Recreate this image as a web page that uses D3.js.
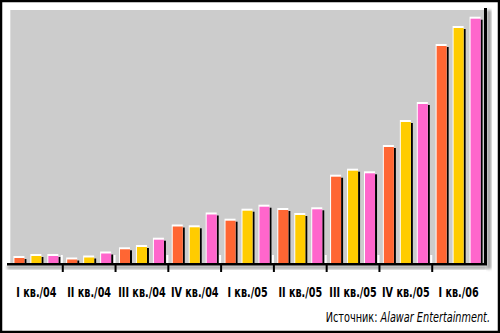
<!DOCTYPE html>
<html><head><meta charset="utf-8">
<script src="https://cdn.jsdelivr.net/npm/d3@7"></script>
<style>
html,body{margin:0;padding:0;background:#fff;}
svg{display:block;}
</style></head>
<body>
<script>
const categories = ["I кв./04","II кв./04","III кв./04","IV кв./04","I кв./05","II кв./05","III кв./05","IV кв./05","I кв./06"];
const seriesA = [5, 3.5, 13.7, 36.5, 42.3, 53, 86.3, 116, 217];   // orange
const seriesB = [7, 5.5, 16, 35.7, 52.3, 48, 92.3, 141, 235];     // yellow
const seriesC = [7, 9.5, 23.3, 48.5, 56.3, 53.7, 89.7, 159, 244.3]; // pink
const colors = ["#ff6633", "#ffcc00", "#ff66cc"];
const sourceLabel = "Источник: ";
const sourceName = "Alawar Entertainment.";

const W = 500, H = 333;
const plot = {left: 10, right: 485, top: 10, bottom: 263};
const FONT = "'Liberation Sans Narrow','Arial Narrow','DejaVu Sans Condensed','DejaVu Sans',sans-serif";
const svg = d3.select("body").append("svg").attr("width", W).attr("height", H);

const defs = svg.append("defs");
const blur = defs.append("filter").attr("id","blur").attr("x","-20%").attr("y","-20%").attr("width","140%").attr("height","140%");
blur.append("feGaussianBlur").attr("stdDeviation", 1.6);

// background + border
svg.append("rect").attr("x",1).attr("y",1).attr("width",W-2).attr("height",H-2)
  .attr("fill","#fff").attr("stroke","#000").attr("stroke-width",2.5);

// plot background
svg.append("rect").attr("x",plot.left).attr("y",plot.top)
  .attr("width",plot.right-plot.left).attr("height",plot.bottom-plot.top)
  .attr("fill","#cccccc");
svg.append("rect").attr("x",plot.left).attr("y",plot.top).attr("width",1).attr("height",plot.bottom-plot.top).attr("fill","#dcdcdc");

const x0 = d3.scaleBand().domain(categories).range([plot.left, plot.right]).paddingInner(0).paddingOuter(0);
const x1 = d3.scaleBand().domain([0,1,2]).range([0, x0.bandwidth()]).paddingInner(0.41).paddingOuter(0.26);
const y = d3.scaleLinear().domain([0, 250]).range([plot.bottom, plot.bottom - 250]);

// shadows of right border and axis
svg.append("rect").attr("x",plot.right+2).attr("y",plot.top).attr("width",4).attr("height",plot.bottom-plot.top+6)
  .attr("fill","#999").attr("filter","url(#blur)");
svg.append("rect").attr("x",7).attr("y",plot.bottom+3).attr("width",plot.right-5).attr("height",3)
  .attr("fill","#999").attr("filter","url(#blur)");

// white stubs near ticks
const tickPos = categories.slice(1).map(c => x0(c));
svg.append("g").selectAll("rect").data(tickPos).join("rect")
  .attr("x", d => d-2).attr("y", plot.bottom-8).attr("width",2).attr("height",8).attr("fill","#fff");

// bars
const series = [seriesA, seriesB, seriesC];
const bars = [];
categories.forEach((c,i) => series.forEach((s,j) => bars.push({c, j, v: s[i]})));
const g = svg.append("g");
const bw = x1.bandwidth();
const bx = d => x0(d.c) + x1(d.j);
g.selectAll("rect.sh").data(bars).join("rect").attr("class","sh")
  .attr("x", d => bx(d)+2).attr("y", d => y(d.v)+1).attr("width", bw).attr("height", d => plot.bottom - y(d.v) - 1)
  .attr("fill","#000");
g.selectAll("rect.hl").data(bars).join("rect").attr("class","hl")
  .attr("x", d => bx(d)-1).attr("y", d => y(d.v)-2).attr("width", bw+1).attr("height", d => plot.bottom - y(d.v) + 2)
  .attr("fill","#fff");
g.selectAll("rect.bar").data(bars).join("rect").attr("class","bar")
  .attr("x", d => bx(d)).attr("y", d => y(d.v)).attr("width", bw).attr("height", d => plot.bottom - y(d.v))
  .attr("fill", d => colors[d.j]);

// right border line
svg.append("rect").attr("x",plot.right-1).attr("y",8).attr("width",3).attr("height",plot.bottom-8+2).attr("fill","#000");
// axis
const axis = d3.axisBottom(x0).tickSize(0).tickPadding(0);
const ag = svg.append("g").attr("transform",`translate(0,${plot.bottom})`).call(axis);
ag.select(".domain").remove();
ag.selectAll("text").attr("y", 34).attr("dy", 0)
  .attr("font-family", FONT)
  .attr("font-weight","bold").attr("font-size",14.5).attr("fill","#000")
  .attr("transform","scale(0.74,1)");
svg.append("rect").attr("x",7).attr("y",plot.bottom).attr("width",plot.right-5).attr("height",2.5).attr("fill","#000");
svg.append("g").selectAll("rect").data(tickPos).join("rect")
  .attr("x", d => d-1).attr("y", plot.bottom).attr("width",2).attr("height",9).attr("fill","#000");

// source
const src = svg.append("text").attr("transform","translate(490,322) scale(0.8,1)").attr("text-anchor","end")
  .attr("font-family", FONT)
  .attr("font-size",13.5).attr("fill","#000");
src.append("tspan").text(sourceLabel);
src.append("tspan").attr("font-style","italic").text(sourceName);
</script>
</body></html>
